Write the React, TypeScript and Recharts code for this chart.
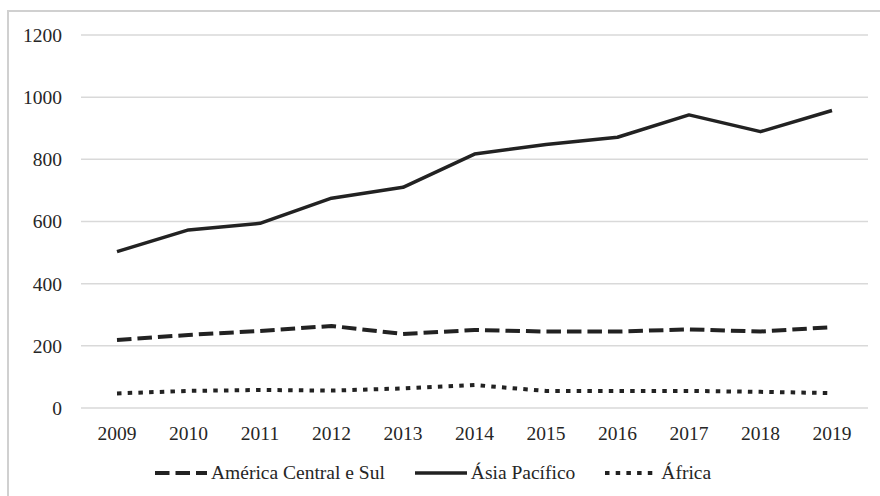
import React from 'react';
import { LineChart, Line, XAxis, YAxis, CartesianGrid, Legend } from 'recharts';

const years = ['2009', '2010', '2011', '2012', '2013', '2014', '2015', '2016', '2017', '2018', '2019'];
const americaCentralSul = [219, 235, 248, 264, 238, 251, 246, 246, 253, 246, 260];
const asiaPacifico = [503, 573, 594, 675, 710, 817, 848, 871, 943, 889, 957];
const africa = [47, 55, 58, 56, 63, 74, 55, 55, 55, 52, 48];
const yTicks = [0, 200, 400, 600, 800, 1000, 1200];

const series = [
  { key: 'america', name: 'América Central e Sul', values: americaCentralSul, dash: '14.5 6', width: 4 },
  { key: 'asia', name: 'Ásia Pacífico', values: asiaPacifico, dash: undefined, width: 3.5 },
  { key: 'africa', name: 'África', values: africa, dash: '4.5 6.2', width: 4 },
];

const data = years.map((year, i) => {
  const row: Record<string, string | number> = { year };
  series.forEach((s) => {
    row[s.key] = s.values[i];
  });
  return row;
});

const FONT = '"Liberation Serif", serif';
const FONT_SIZE = 19.5;
const TEXT = '#262626';
const LINE = '#222222';

const LegendContent = () => (
  <div style={{ display: 'flex', alignItems: 'center', paddingLeft: 155, height: 30, fontFamily: FONT, fontSize: FONT_SIZE, color: TEXT, whiteSpace: 'nowrap' }}>
    {series.map((s) => (
      <div key={s.key} style={{ display: 'flex', alignItems: 'center', marginRight: 30 }}>
        <svg width={52} height={10} style={{ marginRight: 4 }}>
          <line x1={0} y1={5} x2={52} y2={5} stroke={LINE} strokeWidth={s.width} strokeDasharray={s.dash} />
        </svg>
        <span>{s.name}</span>
      </div>
    ))}
  </div>
);

const App: React.FC = () => {
  return (
    <div style={{ position: 'absolute', left: 0, top: 0, width: 880, height: 496, overflow: 'hidden', background: '#fff', fontFamily: FONT }}>
      {/* chart frame, open to the right and bottom */}
      <div
        style={{
          position: 'absolute',
          left: 7,
          top: 10,
          width: 900,
          height: 520,
          border: '2px solid #d0d0d0',
        }}
      />
      <div style={{ position: 'absolute', left: 0, top: 0 }}>
        <LineChart width={880} height={496} data={data} margin={{ top: 35, right: 12, left: 0, bottom: 28 }}>
          <CartesianGrid vertical={false} stroke="#d9d9d9" strokeWidth={1.5} />
          <XAxis
            dataKey="year"
            axisLine={false}
            tickLine={false}
            tickSize={0}
            tickMargin={18}
            height={30}
            interval={0}
            padding={{ left: 36, right: 36 }}
            tick={{ fill: TEXT, fontSize: FONT_SIZE, fontFamily: FONT }}
          />
          <YAxis
            domain={[0, 1200]}
            ticks={yTicks}
            axisLine={false}
            tickLine={false}
            tickSize={0}
            tickMargin={19}
            width={81}
            tick={{ fill: TEXT, fontSize: FONT_SIZE, fontFamily: FONT }}
          />
          <Legend
            verticalAlign="bottom"
            content={<LegendContent />}
            wrapperStyle={{ top: 458, left: 0, width: 880, height: 30 }}
          />
          {series.map((s) => (
            <Line
              key={s.key}
              type="linear"
              dataKey={s.key}
              name={s.name}
              stroke={LINE}
              strokeWidth={s.width}
              strokeDasharray={s.dash}
              strokeLinejoin="round"
              dot={false}
              activeDot={false}
              isAnimationActive={false}
            />
          ))}
        </LineChart>
      </div>
    </div>
  );
};

export default App;
